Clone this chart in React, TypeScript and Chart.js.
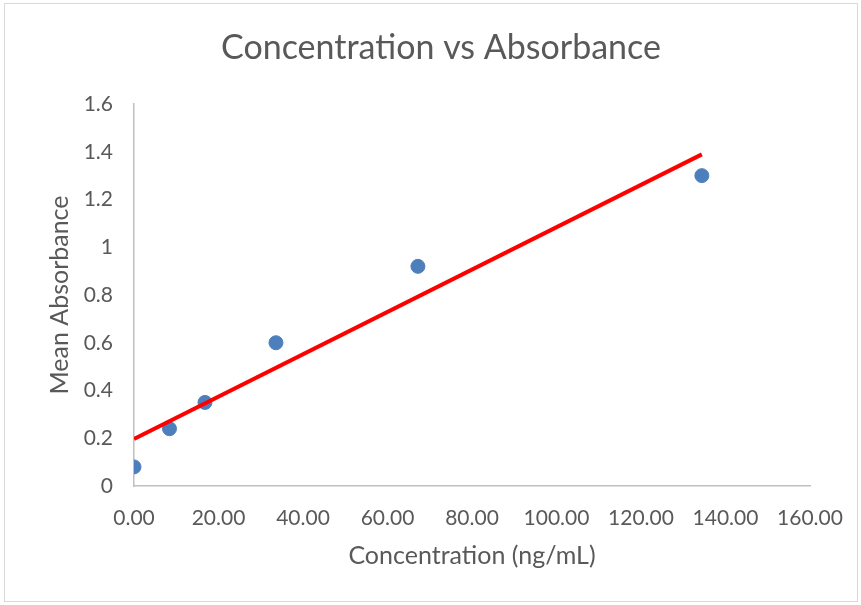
import React, { useEffect, useRef } from "react";
import { Chart, registerables } from "chart.js";

Chart.register(...registerables);

const concentration = [0, 8.4, 16.8, 33.6, 67.2, 134.4];
const meanAbsorbance = [0.08, 0.24, 0.35, 0.6, 0.92, 1.3];
const trendX = [0, 134.4];
const trendY = [0.197, 1.389];
const xTicks = [0, 20, 40, 60, 80, 100, 120, 140, 160];
const yTicks = [0, 0.2, 0.4, 0.6, 0.8, 1, 1.2, 1.4, 1.6];
const chartTitle = "Concentration vs Absorbance";

const FONT = "Lato, 'Open Sans', sans-serif";
const TEXT = "#595959";

const titlePlugin = {
  id: "customTitle",
  afterDraw(chart: any) {
    const ctx = chart.ctx;
    ctx.save();
    ctx.font = `normal 34px ${FONT}`;
    ctx.fillStyle = TEXT;
    ctx.textAlign = "center";
    ctx.textBaseline = "middle";
    ctx.fillText(chartTitle, 441, 48);
    ctx.restore();
  },
};

export default function App() {
  const ref = useRef<HTMLCanvasElement | null>(null);

  useEffect(() => {
    if (!ref.current) return;
    const chart = new Chart(ref.current, {
      type: "scatter",
      data: {
        datasets: [
          {
            type: "line",
            label: "Trend",
            data: trendX.map((x, i) => ({ x, y: trendY[i] })),
            borderColor: "#ff0000",
            borderWidth: 4,
            pointRadius: 0,
            fill: false,
            order: 0,
          } as any,
          {
            label: "Mean Absorbance",
            data: concentration.map((x, i) => ({ x, y: meanAbsorbance[i] })),
            backgroundColor: "#4e7fbd",
            borderColor: "#4e7fbd",
            pointRadius: 7,
            pointHoverRadius: 7,
            order: 1,
          },
        ],
      },
      plugins: [titlePlugin],
      options: {
        animation: false,
        responsive: false,
        maintainAspectRatio: false,
        layout: { padding: { left: 0, right: 51, top: 104, bottom: 0 } },
        plugins: {
          legend: { display: false },
          tooltip: { enabled: false },
          title: { display: false },
        },
        scales: {
          x: {
            type: "linear",
            min: 0,
            max: 160,
            afterBuildTicks: (s: any) => {
              s.ticks = xTicks.map((v) => ({ value: v }));
            },
            afterFit: (s: any) => {
              s.height = 119;
              s.paddingLeft = 0;
              s.paddingRight = 0;
            },
            ticks: {
              color: TEXT,
              font: { family: FONT, size: 21 },
              padding: 20,
              maxRotation: 0,
              callback: (v: any) => Number(v).toFixed(2),
            },
            grid: { display: false, drawTicks: false },
            border: { display: true, color: "#c0c0c0", width: 1.5 },
            title: {
              display: true,
              text: "Concentration (ng/mL)",
              color: TEXT,
              font: { family: FONT, size: 25 },
              padding: { top: 0, bottom: 34 },
            },
          },
          y: {
            type: "linear",
            min: 0,
            max: 1.6,
            afterBuildTicks: (s: any) => {
              s.ticks = yTicks.map((v) => ({ value: v }));
            },
            afterFit: (s: any) => {
              s.width = 134;
            },
            ticks: {
              color: TEXT,
              font: { family: FONT, size: 21 },
              padding: 21,
              callback: (v: any) => String(Math.round(Number(v) * 10) / 10),
            },
            grid: { display: false, drawTicks: false },
            border: { display: true, color: "#c0c0c0", width: 1.5 },
            title: {
              display: true,
              text: "Mean Absorbance",
              color: TEXT,
              font: { family: FONT, size: 25 },
              padding: { top: 45, bottom: 0 },
            },
          },
        },
      },
    });
    return () => chart.destroy();
  }, []);

  return (
    <div style={{ position: "fixed", left: 0, top: 0, width: 861, height: 605, background: "#fff" }}>
      <div
        style={{
          position: "absolute",
          left: 4,
          top: 3,
          width: 852,
          height: 597,
          border: "1px solid #d9d9d9",
        }}
      />
      <canvas ref={ref} width={861} height={605} style={{ position: "absolute", left: 0, top: 0 }} />
    </div>
  );
}
